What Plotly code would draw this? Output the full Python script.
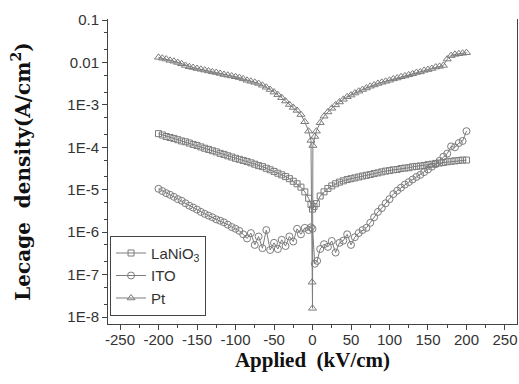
import plotly.graph_objects as go

# ---------------- data ----------------
# Electric field (kV/cm) and leakage current density (A/cm^2)
lanio3_x = [-200, -195, -190, -185, -180, -175, -170, -165, -160, -155, -150, -145, -140, -135,
            -130, -125, -120, -115, -110, -105, -100, -95, -90, -85, -80, -75, -70, -65, -60,
            -55, -50, -45, -40, -35, -30, -25, -20, -15, -10, -5, -2, 0,
            2, 5, 10, 15, 20, 25, 30, 35, 40, 45, 50, 55, 60, 65, 70, 75, 80, 85, 90, 95, 100,
            105, 110, 115, 120, 125, 130, 135, 140, 145, 150, 155, 160, 165, 170, 175, 180,
            185, 190, 195, 200]
lanio3_j = [2.1e-4, 1.95e-4, 1.8e-4, 1.7e-4, 1.62e-4, 1.51e-4, 1.41e-4, 1.35e-4, 1.26e-4, 1.17e-4,
            1.10e-4, 1.02e-4, 9.5e-5, 8.9e-5, 8.3e-5, 7.8e-5, 7.2e-5, 6.8e-5, 6.3e-5, 5.9e-5,
            5.5e-5, 5.2e-5, 4.9e-5, 4.6e-5, 4.3e-5, 4.0e-5, 3.7e-5, 3.5e-5, 3.2e-5, 2.95e-5,
            2.7e-5, 2.45e-5, 2.24e-5, 2.04e-5, 1.82e-5, 1.58e-5, 1.38e-5, 1.15e-5, 8.9e-6,
            6.3e-6, 4.5e-6, 3.5e-6,
            4.0e-6, 4.7e-6, 7.1e-6, 8.9e-6, 1.07e-5, 1.23e-5, 1.38e-5, 1.51e-5, 1.62e-5,
            1.74e-5, 1.82e-5, 1.9e-5, 2.0e-5, 2.1e-5, 2.19e-5, 2.29e-5, 2.4e-5, 2.5e-5,
            2.63e-5, 2.75e-5, 2.82e-5, 2.95e-5, 3.0e-5, 3.16e-5, 3.24e-5, 3.3e-5, 3.47e-5,
            3.55e-5, 3.63e-5, 3.72e-5, 3.9e-5, 4.0e-5, 4.17e-5, 4.27e-5, 4.37e-5, 4.57e-5,
            4.68e-5, 4.79e-5, 4.9e-5, 5.0e-5, 5.0e-5]

ito_x = [-200, -195, -190, -185, -180, -175, -170, -165, -160, -155, -150, -145, -140, -135,
         -130, -125, -120, -115, -110, -105, -100, -95, -90, -85, -80, -75, -70, -65, -60,
         -55, -50, -45, -40, -35, -30, -25, -20, -15, -10, -5, -2, 0,
         3, 6, 10, 15, 20, 25, 30, 35, 40, 45, 50, 55, 60, 65, 70, 75, 80, 85, 90, 95, 100,
         105, 110, 115, 120, 125, 130, 135, 140, 145, 150, 155, 160, 165, 170, 175, 180,
         185, 190, 195, 200]
ito_j = [1.05e-5, 9.3e-6, 8.3e-6, 7.6e-6, 6.8e-6, 6.0e-6, 5.5e-6, 4.8e-6, 4.2e-6, 3.8e-6,
         3.4e-6, 3.0e-6, 2.7e-6, 2.45e-6, 2.24e-6, 2.0e-6, 1.86e-6, 1.7e-6, 1.5e-6, 1.32e-6,
         1.2e-6, 1.07e-6, 8.9e-7, 7.1e-7, 9.5e-7, 5.0e-7, 7.9e-7, 4.2e-7, 1.12e-6, 3.8e-7,
         5.6e-7, 4.0e-7, 6.6e-7, 4.7e-7, 7.9e-7, 6.0e-7, 1.2e-6, 8.9e-7, 1.26e-6, 1.12e-6,
         1.3e-6, 1.2e-6,
         1.8e-7, 2.1e-7, 4.0e-7, 5.2e-7, 4.5e-7, 6.2e-7, 3.3e-7, 5.6e-7, 6.3e-7, 8.9e-7,
         5.0e-7, 7.6e-7, 9.5e-7, 1.12e-6, 1.26e-6, 1.66e-6, 2.24e-6, 3.0e-6, 3.7e-6, 4.8e-6,
         6.0e-6, 7.9e-6, 9.5e-6, 1.12e-5, 1.32e-5, 1.51e-5, 1.74e-5, 2.0e-5, 2.24e-5,
         2.6e-5, 3.0e-5, 3.5e-5, 4.0e-5, 4.8e-5, 6.0e-5, 7.1e-5, 1.05e-4, 1.0e-4, 1.26e-4,
         1.41e-4, 2.4e-4]

pt_x = [-200, -195, -190, -185, -180, -175, -170, -165, -160, -155, -150, -145, -140, -135,
        -130, -125, -120, -115, -110, -105, -100, -95, -90, -85, -80, -75, -70, -65, -60,
        -55, -50, -45, -40, -35, -30, -25, -20, -15, -10, -5, -2, -0.5, 0, 0.5,
        3, 5, 10, 15, 20, 25, 30, 35, 40, 45, 50, 55, 60, 65, 70, 75, 80, 85, 90, 95, 100,
        105, 110, 115, 120, 125, 130, 135, 140, 145, 150, 155, 160, 165, 170, 175, 180,
        185, 190, 195, 200]
pt_j = [1.32e-2, 1.26e-2, 1.2e-2, 1.12e-2, 1.07e-2, 1.0e-2, 9.3e-3, 8.5e-3, 7.9e-3, 7.6e-3,
        7.2e-3, 6.9e-3, 6.6e-3, 6.3e-3, 6.0e-3, 5.8e-3, 5.5e-3, 5.2e-3, 5.0e-3, 4.8e-3,
        4.6e-3, 4.4e-3, 4.1e-3, 3.8e-3, 3.6e-3, 3.4e-3, 3.2e-3, 2.9e-3, 2.6e-3, 2.3e-3,
        2.0e-3, 1.74e-3, 1.48e-3, 1.23e-3, 1.02e-3, 8.7e-4, 7.4e-4, 5.9e-4, 4.0e-4, 2.4e-4,
        1.45e-4, 6.6e-8, 1.6e-8, 1.1e-4,
        1.8e-4, 2.4e-4, 3.8e-4, 5.4e-4, 6.8e-4, 8.3e-4, 1.0e-3, 1.17e-3, 1.35e-3, 1.55e-3,
        1.7e-3, 1.9e-3, 2.1e-3, 2.3e-3, 2.5e-3, 2.75e-3, 2.95e-3, 3.2e-3, 3.4e-3, 3.6e-3,
        3.8e-3, 4.1e-3, 4.3e-3, 4.6e-3, 4.8e-3, 5.1e-3, 5.4e-3, 5.8e-3, 6.0e-3, 6.5e-3,
        6.8e-3, 7.2e-3, 7.8e-3, 8.1e-3, 8.5e-3, 1.2e-2, 1.45e-2, 1.55e-2, 1.6e-2, 1.65e-2,
        1.7e-2]

y_tickvals = [1e-1, 1e-2, 1e-3, 1e-4, 1e-5, 1e-6, 1e-7, 1e-8]
y_ticktext = ["0.1", "0.01", "1E-3", "1E-4", "1E-5", "1E-6", "1E-7", "1E-8"]
x_tickvals = [-250, -200, -150, -100, -50, 0, 50, 100, 150, 200, 250]
x_ticktext = ["-250", "-200", "-150", "-100", "-50", "0", "50", "100", "150", "200", "250"]

# ---------------- figure ----------------
GRAY = "#7c7c7c"
AX = "#444444"
SANS = "Liberation Sans, Arial, sans-serif"
SERIF = "Liberation Serif, Times New Roman, serif"

fig = go.Figure()
series = [
    ("LaNiO<sub>3</sub>", lanio3_x, lanio3_j, "square-open", 6),
    ("ITO", ito_x, ito_j, "circle-open", 7),
    ("Pt", pt_x, pt_j, "triangle-up-open", 7),
]
for name, xs, ys, sym, sz in series:
    fig.add_trace(go.Scatter(
        x=xs, y=ys, name=name, mode="lines+markers",
        line=dict(color=GRAY, width=1),
        marker=dict(symbol=sym, size=sz, color=GRAY, line=dict(color=GRAY, width=1)),
    ))

fig.update_layout(
    width=519, height=384,
    margin=dict(l=108, r=2, t=19, b=60),
    paper_bgcolor="white", plot_bgcolor="white",
    font=dict(family=SANS, size=15, color="#333333"),
    showlegend=True,
    legend=dict(
        x=0.005, y=0.027, xanchor="left", yanchor="bottom",
        bordercolor=AX, borderwidth=1, bgcolor="white",
        font=dict(family=SANS, size=15, color="#333333"),
        itemwidth=30, tracegroupgap=0,
    ),
    xaxis=dict(
        range=[-265.6, 265.6], tickvals=x_tickvals, ticktext=x_ticktext,
        showgrid=False, zeroline=False,
        showline=True, linecolor=AX, linewidth=1, mirror=False,
        ticks="outside", ticklen=5, tickcolor=AX,
        ticklabelstandoff=-3,
        minor=dict(ticks="outside", ticklen=3, tickcolor=AX, dtick=25, tick0=0, showgrid=False),
        tickfont=dict(family=SANS, size=15, color="#333333"),
        title=dict(text="<b>Applied\u00a0 (kV/cm)</b>", standoff=0,
                   font=dict(family=SERIF, size=21, color="#111111")),
    ),
    yaxis=dict(
        type="log", range=[-8.165, -0.976],
        tickvals=y_tickvals, ticktext=y_ticktext,
        showgrid=False, zeroline=False,
        showline=True, linecolor=AX, linewidth=1, mirror=True,
        ticks="outside", ticklen=5, tickcolor=AX,
        minor=dict(ticks="outside", ticklen=3, tickcolor=AX, showgrid=False),
        tickfont=dict(family=SANS, size=15, color="#333333"),
        title=dict(text="<b>Lecage  density(A/cm<sup>2</sup>)</b>", standoff=31,
                   font=dict(family="DejaVu Serif, serif", size=20, color="#111111")),
    ),
)

fig.write_html("out.html")
